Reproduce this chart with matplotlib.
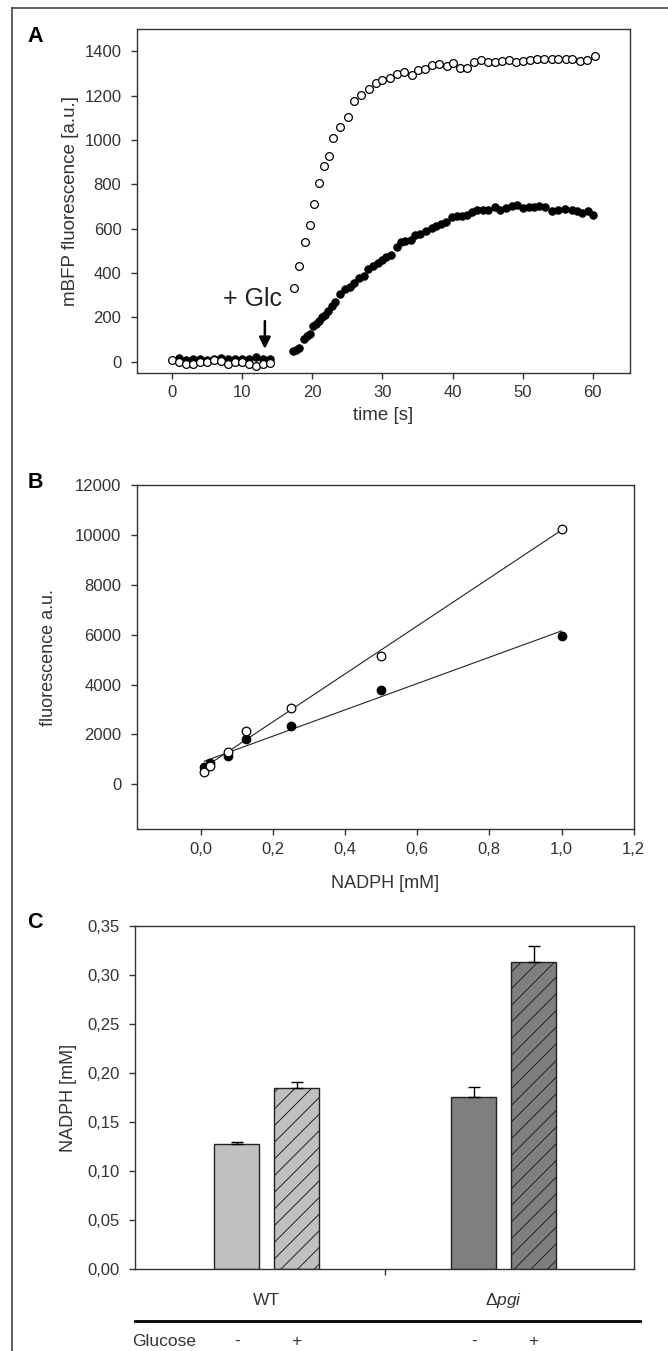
import numpy as np
import matplotlib
matplotlib.use('Agg')
import matplotlib.pyplot as plt
from matplotlib.lines import Line2D
from matplotlib.ticker import FuncFormatter

plt.rcParams['font.family'] = ['Liberation Sans', 'DejaVu Sans']
plt.rcParams['mathtext.fontset'] = 'custom'
plt.rcParams['mathtext.rm'] = 'Liberation Sans'
plt.rcParams['mathtext.it'] = 'Liberation Sans:italic'
plt.rcParams['hatch.linewidth'] = 0.7

# ---- panel A: mBFP fluorescence over time ----
t_open = [0, 1, 2, 3, 4, 5, 6, 7, 8, 9, 10, 11, 12, 13, 14,
          17.4, 18.1, 18.9, 19.6, 20.2, 21.0, 21.6, 22.4, 23.0, 24.0, 25.1, 26.0, 27.0,
          28.1, 29.1, 30.0, 31.0, 32.1, 33.1, 34.2, 35.1, 36.1, 37.1, 38.1, 39.2, 40.1,
          41.1, 42.1, 43.1, 44.1, 45.0, 46.0, 47.1, 48.0, 49.1, 50.1, 51.1, 52.1, 53.1,
          54.2, 55.1, 56.2, 57.1, 58.2, 59.2, 60.3]
f_open = [6, -1, -12, -12, -4, -4, 8, 1, -12, -1, -4, -9, -22, -9, -7,
          333, 430, 538, 616, 710, 805, 884, 926, 1010, 1057, 1105, 1174, 1203,
          1230, 1256, 1272, 1281, 1299, 1308, 1293, 1314, 1320, 1338, 1344, 1333, 1347,
          1325, 1325, 1352, 1359, 1349, 1349, 1355, 1362, 1349, 1356, 1359, 1364, 1364,
          1364, 1364, 1364, 1364, 1355, 1359, 1377]

t_filled = [1, 2, 3, 4, 5, 6, 7, 8, 9, 10, 11, 12, 13, 14,
            17.2, 17.7, 18.1, 18.8, 19.2, 19.6, 20.1, 20.5, 20.9, 21.4, 21.8, 22.2, 22.8,
            23.2, 24.0, 24.7, 25.3, 26.0, 26.6, 27.3, 28.0, 28.6, 29.3, 29.9, 30.5, 31.2,
            32.0, 32.6, 33.2, 34.0, 34.7, 35.4, 36.2, 37.1, 37.7, 38.3, 39.0, 39.9, 40.6,
            41.3, 42.1, 42.8, 43.5, 44.3, 45.1, 46.1, 46.8, 47.7, 48.5, 49.2, 50.1, 50.9,
            51.6, 52.4, 53.2, 54.2, 55.1, 56.1, 57.1, 57.8, 58.5, 59.3, 60.0]
f_filled = [15, 8, 12, 10, 8, 12, 15, 10, 12, 14, 10, 20, 14, 12,
            48, 54, 60, 103, 115, 126, 160, 168, 183, 201, 211, 228, 250,
            268, 307, 328, 337, 355, 378, 388, 418, 430, 445, 460, 472, 482,
            515, 538, 542, 550, 572, 577, 587, 602, 613, 622, 630, 652, 655,
            655, 662, 673, 682, 682, 682, 697, 682, 692, 700, 707, 692, 697,
            697, 700, 697, 677, 685, 688, 685, 677, 670, 677, 662]

# ---- panel B: NADPH calibration ----
nadph_conc = [0.01, 0.025, 0.075, 0.125, 0.25, 0.5, 1.0]
calib_open = [500, 750, 1300, 2150, 3050, 5150, 10250]
calib_filled = [700, 850, 1150, 1800, 2350, 3800, 5950]

# ---- panel C: NADPH levels ----
strains = ['WT', 'Δ$\\mathit{pgi}$']
nadph_no_glc = [0.1273, 0.1752]
nadph_no_glc_err = [0.0024, 0.0105]
nadph_glc = [0.1843, 0.3133]
nadph_glc_err = [0.0065, 0.0163]
strain_colors = ['#c0c0c0', '#7f7f7f']

W, H = 668, 1351
fig = plt.figure(figsize=(W / 100, H / 100), dpi=100)


def box(l, r, t, b):
    return [l / W, 1 - b / H, (r - l) / W, (b - t) / H]


def style(ax):
    for s in ax.spines.values():
        s.set_color('#333333')
        s.set_linewidth(1.0)
    ax.tick_params(direction='out', length=4, width=1, color='#333333',
                   labelsize=12, labelcolor='#333333', top=False, right=False)
    ax.tick_params(axis='x', pad=5)
    ax.tick_params(axis='y', pad=7)


comma = lambda nd: FuncFormatter(lambda v, p: f'{v:.{nd}f}'.replace('.', ','))

# Panel A
axA = fig.add_axes(box(136.7, 629.7, 29, 372.7))
style(axA)
axA.plot(t_filled, f_filled, 'o', color='black', ms=5.3, mew=0.8, zorder=2)
axA.plot(t_open, f_open, 'o', mfc='white', mec='black', ms=5.6, mew=0.9, zorder=3)
axA.set_xlim(-5.1, 65.3)
axA.set_ylim(-50, 1500)
axA.set_xticks(range(0, 61, 10))
axA.set_yticks(range(0, 1401, 200))
axA.set_xlabel('time [s]', fontsize=13.5, color='#333333')
axA.set_ylabel('mBFP fluorescence [a.u.]', fontsize=13.5, color='#333333')
axA.xaxis.set_label_coords(0.5, -0.1)
axA.yaxis.set_label_coords(-0.118, 0.5)
axA.annotate('', xy=(13.2, 45), xytext=(13.2, 195),
             arrowprops=dict(arrowstyle='-|>', lw=1.8, color='black', mutation_scale=17))
axA.text(11.4, 283, '+ Glc', fontsize=18, ha='center', va='center', color='#222222')

# Panel B
axB = fig.add_axes(box(136.7, 633.7, 485, 829.3))
style(axB)
xb = np.array(nadph_conc)
for vals in (calib_open, calib_filled):
    k, c = np.polyfit(xb, vals, 1)
    xr = np.array([xb.min(), xb.max()])
    axB.plot(xr, k * xr + c, color='#222222', lw=0.8, zorder=1)
axB.plot(nadph_conc, calib_filled, 'o', color='black', ms=6, zorder=3)
axB.plot(nadph_conc, calib_open, 'o', mfc='white', mec='black', ms=6.2, mew=0.9, zorder=3)
axB.set_xlim(-0.177, 1.2)
axB.set_ylim(-1800, 12000)
axB.set_xticks(np.arange(0, 1.21, 0.2))
axB.set_yticks(range(0, 12001, 2000))
axB.xaxis.set_major_formatter(comma(1))
axB.set_xlabel('NADPH [mM]', fontsize=13, color='#333333')
axB.set_ylabel('fluorescence a.u.', fontsize=13, color='#333333')
axB.xaxis.set_label_coords(0.5, -0.133)
axB.yaxis.set_label_coords(-0.16, 0.5)

# Panel C
axC = fig.add_axes(box(135, 633.7, 925.7, 1269.3))
style(axC)
groups = np.arange(1, len(strains) + 1)
off, bw = 0.126, 0.19
err_kw = dict(ecolor='black', elinewidth=1, capsize=4.5, capthick=1)
axC.bar(groups - off, nadph_no_glc, bw, color=strain_colors, edgecolor='#222222', lw=1,
        yerr=[np.zeros(len(strains)), nadph_no_glc_err], error_kw=err_kw, zorder=2)
axC.bar(groups + off, nadph_glc, bw, color=strain_colors, edgecolor='#222222', lw=1,
        hatch='//', yerr=[np.zeros(len(strains)), nadph_glc_err], error_kw=err_kw, zorder=2)
axC.set_xlim(1 - (266.6 - 135) / 237, 2 + (633.7 - 503.8) / 237)
axC.set_ylim(0, 0.35)
axC.set_yticks(np.arange(0, 0.351, 0.05))
axC.yaxis.set_major_formatter(comma(2))
axC.set_xticks([1.5])
axC.set_xticklabels([''])
axC.set_ylabel('NADPH [mM]', fontsize=13, color='#333333')
axC.yaxis.set_label_coords(-0.117, 0.5)
for g, name in zip(groups, strains):
    axC.text(g, -0.0914 * 0.35, name, fontsize=12.5, ha='center', va='center',
             color='#333333')
    axC.text(g - off, -0.2107 * 0.35, '-', fontsize=12.5, ha='center', va='center',
             color='#333333')
    axC.text(g + off, -0.2107 * 0.35, '+', fontsize=12.5, ha='center', va='center',
             color='#333333')
axC.text(-0.005, -0.2107, 'Glucose', transform=axC.transAxes, fontsize=12.5,
         ha='left', va='center', color='#333333')
axC.plot([0, 1.012], [-0.1496, -0.1496], transform=axC.transAxes, color='black',
         lw=2, clip_on=False)

# panel letters
for lab, (px, py) in zip('ABC', [(35.7, 37), (35, 482), (35, 923)]):
    fig.text(px / W, 1 - py / H, lab, fontsize=15.5, fontweight='bold', ha='center', va='center')

# outer frame (top and left)
fig.add_artist(Line2D([12 / W, 12 / W], [0, 1 - 8 / H], color='#444444', lw=1.2))
fig.add_artist(Line2D([12 / W, 1], [1 - 8 / H, 1 - 8 / H], color='#444444', lw=1.2))

fig.savefig('out.png', dpi=100)
